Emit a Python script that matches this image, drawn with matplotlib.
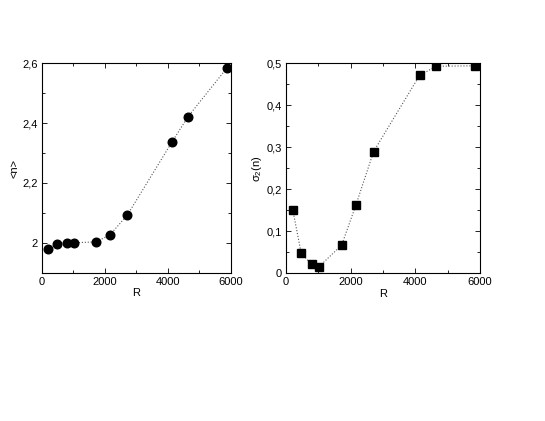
import matplotlib
matplotlib.use("Agg")
import matplotlib.pyplot as plt
from matplotlib.ticker import FixedLocator, MultipleLocator, FixedFormatter

plt.rcParams['font.family'] = ['Liberation Sans', 'DejaVu Sans']
plt.rcParams['mathtext.fontset'] = 'custom'
plt.rcParams['mathtext.rm'] = 'Liberation Sans'
plt.rcParams['mathtext.it'] = 'Liberation Sans:italic'

R = [210, 470, 790, 1010, 1720, 2160, 2710, 4130, 4640, 5860]
mean_n = [1.978, 1.997, 2.0, 2.0, 2.003, 2.026, 2.092, 2.337, 2.422, 2.583]
sigma2 = [0.151, 0.048, 0.021, 0.015, 0.067, 0.162, 0.290, 0.471, 0.493, 0.494]

x_ticks = [0, 2000, 4000, 6000]
x_ticklabels = ['0', '2000', '4000', '6000']
left_yticks = [2.0, 2.2, 2.4, 2.6]
left_yticklabels = ['2', '2,2', '2,4', '2,6']
right_yticks = [0, 0.1, 0.2, 0.3, 0.4, 0.5]
right_yticklabels = ['0', '0,1', '0,2', '0,3', '0,4', '0,5']

W, H = 545, 421
fig = plt.figure(figsize=(W / 100, H / 100), dpi=100)

def rect(x0, y0, x1, y1):
    return [x0 / W, 1 - y1 / H, (x1 - x0) / W, (y1 - y0) / H]

ax1 = fig.add_axes(rect(41.7, 63.3, 231, 272.7))
ax2 = fig.add_axes(rect(286, 63.3, 480, 273.3))

fs = 8
line_kw = dict(linestyle=':', color='#555555', linewidth=0.8)

ax1.plot(R, mean_n, marker='o', markersize=6.2, markerfacecolor='black',
         markeredgecolor='black', **line_kw)
ax2.plot(R, sigma2, marker='s', markersize=5.4, markerfacecolor='black',
         markeredgecolor='black', **line_kw)

ax1.set_xlim(0, 6000)
ax1.set_ylim(1.9, 2.6)
ax2.set_xlim(0, 6000)
ax2.set_ylim(0, 0.5)

for ax, yt, ytl, ymin in [(ax1, left_yticks, left_yticklabels, 0.1),
                          (ax2, right_yticks, right_yticklabels, 0.05)]:
    ax.xaxis.set_major_locator(FixedLocator(x_ticks))
    ax.xaxis.set_major_formatter(FixedFormatter(x_ticklabels))
    ax.xaxis.set_minor_locator(MultipleLocator(1000))
    ax.yaxis.set_major_locator(FixedLocator(yt))
    ax.yaxis.set_major_formatter(FixedFormatter(ytl))
    ax.yaxis.set_minor_locator(MultipleLocator(ymin))
    ax.tick_params(which='both', direction='in', top=True, right=True,
                   labelsize=fs, width=0.6, pad=3)
    ax.tick_params(which='major', length=3.5)
    ax.tick_params(which='minor', length=2.5)
    for s in ax.spines.values():
        s.set_linewidth(0.8)
    ax.set_xlabel('R', fontsize=fs, labelpad=1)

ax1.set_ylabel('<n>', fontsize=fs, labelpad=2)
ax2.set_ylabel('σ$_2$(n)', fontsize=fs, labelpad=2)

fig.savefig('out.png', dpi=100)
